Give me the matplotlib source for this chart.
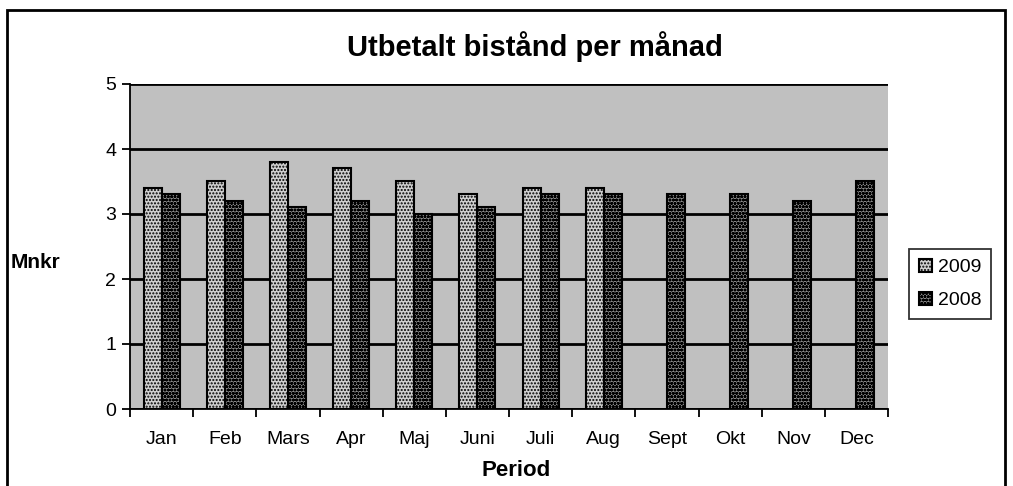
import matplotlib
matplotlib.use("Agg")
import matplotlib.pyplot as plt
import numpy as np
from matplotlib.patches import Rectangle

months = ["Jan", "Feb", "Mars", "Apr", "Maj", "Juni", "Juli", "Aug", "Sept", "Okt", "Nov", "Dec"]
v2009 = [3.4, 3.5, 3.8, 3.7, 3.5, 3.3, 3.4, 3.4]
v2008 = [3.3, 3.2, 3.1, 3.2, 3.0, 3.1, 3.3, 3.3, 3.3, 3.3, 3.2, 3.5]

plt.rcParams['font.family'] = ['Liberation Sans', 'DejaVu Sans']
plt.rcParams['hatch.linewidth'] = 1.0

fig = plt.figure(figsize=(10.13, 4.86), dpi=100)
ax = fig.add_axes([130/1013, 1-409/486, 758/1013, 325/486])
ax.set_facecolor('#c0c0c0')

w = 1/3.5
x = np.arange(len(months))
ax.bar(x[:len(v2009)] - w/2, v2009, w, facecolor='#d0d0d0', edgecolor='black',
       hatch='.....', linewidth=1.5, label='2009', zorder=3)
ax.bar(x + w/2, v2008, w, facecolor='#8c8c8c', edgecolor='black',
       hatch='ooooo', linewidth=1.5, label='2008', zorder=3)

ax.set_xlim(-0.5, len(months) - 0.5)
ax.set_ylim(0, 5)
ax.set_yticks(range(6))
ax.yaxis.grid(True, color='black', linewidth=2, zorder=1)
ax.set_axisbelow(True)
ax.set_xticks(x)
ax.set_xticklabels(months, fontsize=14)
ax.tick_params(axis='x', length=0, pad=16)
ax.tick_params(axis='y', labelsize=14, length=6, width=1.3, pad=4)
ax.set_xticks(np.arange(-0.5, len(months)), minor=True)
ax.tick_params(axis='x', which='minor', length=6, width=1.3)
for s in ['top', 'right']:
    ax.spines[s].set_visible(False)
for s in ['left', 'bottom']:
    ax.spines[s].set_linewidth(1.3)

fig.text(535/1013, 1-47/486, 'Utbetalt bistånd per månad', ha='center', va='center',
         fontsize=21, fontweight='bold')
fig.text(36/1013, 1-262/486, 'Mnkr', ha='center', va='center', fontsize=15, fontweight='bold')
fig.text(516/1013, 1-470/486, 'Period', ha='center', va='center', fontsize=16, fontweight='bold')

leg = ax.legend(loc='center left', bbox_to_anchor=(909/1013, 1-284/486), bbox_transform=fig.transFigure,
                fontsize=14, frameon=True, fancybox=False, edgecolor='black',
                handlelength=0.7, handleheight=0.7, handletextpad=0.3, borderpad=0.5, labelspacing=0.8,
                borderaxespad=0)
leg.get_frame().set_linewidth(1.3)

fig.patches.append(Rectangle((7/1013, -0.05), 998/1013, 1.05 - 10/486, transform=fig.transFigure,
                             fill=False, edgecolor='black', linewidth=2))

fig.savefig('out.png', dpi=100)
